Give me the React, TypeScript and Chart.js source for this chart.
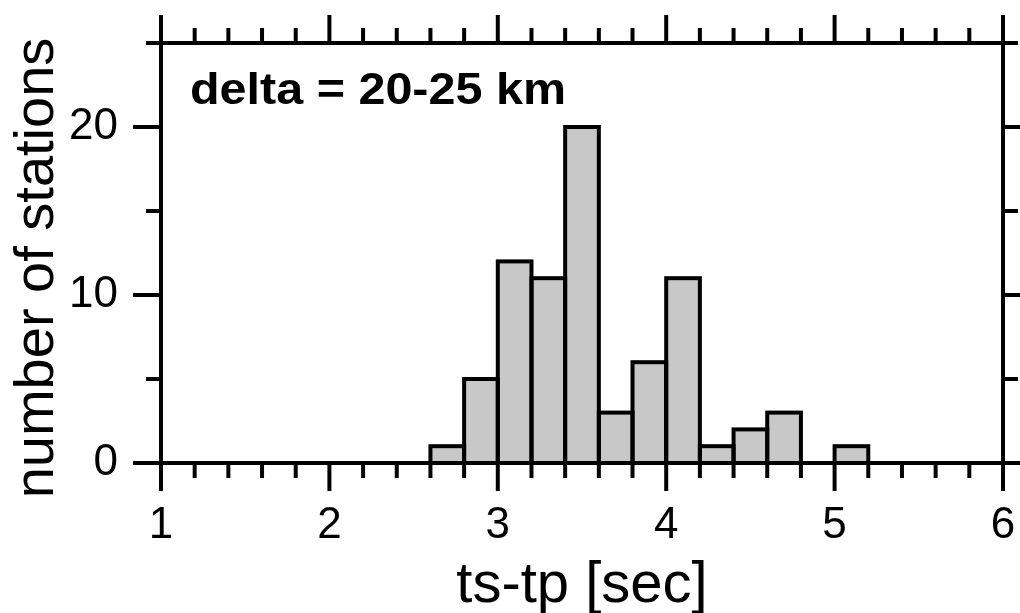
import React, { useEffect, useRef } from 'react';
import { Chart, registerables } from 'chart.js';

Chart.register(...registerables);

// ---- data ----
const binStarts = [2.6, 2.8, 3.0, 3.2, 3.4, 3.6, 3.8, 4.0, 4.2, 4.4, 4.6, 4.8, 5.0];
const binWidth = 0.2;
const stationCounts = [1, 5, 12, 11, 20, 3, 6, 11, 1, 2, 3, 0, 1];

const xTickValues = [1, 2, 3, 4, 5, 6];
const xTickLabels = ['1', '2', '3', '4', '5', '6'];
const yTickValues = [0, 10, 20];
const yTickLabels = ['0', '10', '20'];
const xMinorStep = 0.2;
const yMinorStep = 5;
const xRange = [1, 6];
const yRange = [0, 25];

const xTitle = 'ts-tp [sec]';
const yTitle = 'number of stations';
const annotationText = 'delta = 20-25 km';

const FONT = '"Liberation Sans", Arial, Helvetica, sans-serif';

const gmtPlugin = {
  id: 'gmtFrame',
  afterDatasetsDraw(chart: any) {
    const ctx = chart.ctx;
    const meta = chart.getDatasetMeta(0);
    ctx.save();
    ctx.strokeStyle = '#000';
    ctx.lineWidth = 4;
    ctx.lineJoin = 'miter';
    meta.data.forEach((el: any, i: number) => {
      if (!stationCounts[i]) return;
      const { x, y, base, width } = el.getProps(['x', 'y', 'base', 'width'], true);
      ctx.strokeRect(x - width / 2, y, width, base - y);
    });
    ctx.restore();
  },
  afterDraw(chart: any) {
    const { ctx, chartArea, scales } = chart;
    const { left, right, top, bottom } = chartArea;
    const xs = scales.x;
    const ys = scales.y;
    ctx.save();
    ctx.strokeStyle = '#000';
    ctx.lineWidth = 4;
    ctx.lineCap = 'butt';
    ctx.lineJoin = 'miter';

    // frame
    ctx.beginPath();
    ctx.rect(left, top, right - left, bottom - top);
    ctx.stroke();

    const majorLen = 28;
    const minorLen = 15;

    // x ticks (bottom & top, outward)
    const nx = Math.round((xRange[1] - xRange[0]) / xMinorStep);
    ctx.beginPath();
    for (let k = 0; k <= nx; k++) {
      const v = xRange[0] + k * xMinorStep;
      const major = xTickValues.some((t) => Math.abs(t - v) < 1e-6);
      const len = major ? majorLen : minorLen;
      const px = xs.getPixelForValue(v);
      ctx.moveTo(px, bottom);
      ctx.lineTo(px, bottom + len);
      ctx.moveTo(px, top);
      ctx.lineTo(px, top - len);
    }
    // y ticks (left & right, outward)
    const ny = Math.round((yRange[1] - yRange[0]) / yMinorStep);
    for (let k = 0; k <= ny; k++) {
      const v = yRange[0] + k * yMinorStep;
      const major = yTickValues.some((t) => Math.abs(t - v) < 1e-6);
      const len = major ? majorLen : minorLen;
      const py = ys.getPixelForValue(v);
      ctx.moveTo(left, py);
      ctx.lineTo(left - len, py);
      ctx.moveTo(right, py);
      ctx.lineTo(right + len, py);
    }
    ctx.stroke();

    // texts
    ctx.fillStyle = '#000';
    ctx.textBaseline = 'alphabetic';

    // annotation (wide bold Helvetica look)
    ctx.save();
    ctx.font = `bold 44px ${FONT}`;
    ctx.textAlign = 'left';
    const natural = ctx.measureText(annotationText).width;
    const sx = 376 / natural;
    ctx.translate(left + 29, top + 61);
    ctx.scale(sx, 1);
    ctx.fillText(annotationText, 0, 0);
    ctx.restore();

    ctx.font = `58px ${FONT}`;
    ctx.textAlign = 'center';
    ctx.fillText(xTitle, (left + right) / 2, bottom + 139);

    ctx.font = `56px ${FONT}`;
    ctx.translate(53, 268);
    ctx.rotate(-Math.PI / 2);
    ctx.fillText(yTitle, 0, 0);
    ctx.restore();
  },
};

export default function App() {
  const ref = useRef<HTMLCanvasElement | null>(null);

  useEffect(() => {
    const canvas = ref.current;
    if (!canvas) return;
    const chart = new Chart(canvas, {
      type: 'bar',
      data: {
        datasets: [
          {
            data: binStarts.map((s, i) => ({ x: s + binWidth / 2, y: stationCounts[i] })),
            backgroundColor: '#c8c8c8',
            borderWidth: 0,
            barPercentage: 1,
            categoryPercentage: 1,
          } as any,
        ],
      },
      options: {
        animation: false,
        responsive: false,
        maintainAspectRatio: false,
        layout: { padding: { top: 43, right: 17, left: 0, bottom: 0 } },
        plugins: {
          legend: { display: false },
          tooltip: { enabled: false },
          title: { display: false },
        },
        scales: {
          x: {
            type: 'linear',
            min: xRange[0],
            max: xRange[1],
            offset: false,
            grid: { display: false, drawTicks: false },
            border: { display: false },
            ticks: {
              font: { size: 44, family: FONT, lineHeight: 1 },
              color: '#000',
              padding: 41,
              maxRotation: 0,
              autoSkip: false,
              callback: (v: any) => {
                const i = xTickValues.findIndex((t) => Math.abs(t - Number(v)) < 1e-6);
                return i >= 0 ? xTickLabels[i] : '';
              },
            },
            afterBuildTicks: (s: any) => {
              s.ticks = xTickValues.map((v) => ({ value: v }));
            },
            afterFit: (s: any) => {
              s.height = 150;
              s.paddingLeft = 0;
              s.paddingRight = 0;
            },
          },
          y: {
            type: 'linear',
            min: yRange[0],
            max: yRange[1],
            grid: { display: false, drawTicks: false },
            border: { display: false },
            ticks: {
              font: { size: 44, family: FONT, lineHeight: 1 },
              color: '#000',
              padding: 43,
              autoSkip: false,
              callback: (v: any) => {
                const i = yTickValues.findIndex((t) => Math.abs(t - Number(v)) < 1e-6);
                return i >= 0 ? yTickLabels[i] : '';
              },
            },
            afterBuildTicks: (s: any) => {
              s.ticks = yTickValues.map((v) => ({ value: v }));
            },
            afterFit: (s: any) => {
              s.width = 161;
              s.paddingTop = 0;
              s.paddingBottom = 0;
            },
          },
        },
      } as any,
      plugins: [gmtPlugin],
    });
    return () => chart.destroy();
  }, []);

  return (
    <div style={{ position: 'fixed', left: 0, top: 0, width: 1020, height: 613, background: '#fff' }}>
      <canvas ref={ref} width={1020} height={613} style={{ width: 1020, height: 613, display: 'block' }} />
    </div>
  );
}
